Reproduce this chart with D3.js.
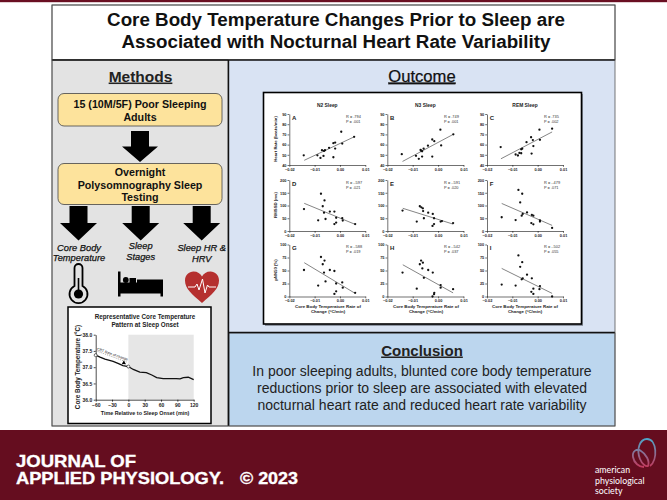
<!DOCTYPE html>
<html>
<head>
<meta charset="utf-8">
<script src="https://cdn.jsdelivr.net/npm/d3@7"></script>
<style>
  html, body { margin: 0; padding: 0; background: #fff; }
  svg { display: block; font-family: "Liberation Sans", Arial, sans-serif; }
</style>
</head>
<body>
<svg width="667" height="500"></svg>
<script>
// scatter data. x = CBT rate of change (C/min)
const xA = [-.0143,-.0089,-.0077,-.0065,-.0071,-.0063,-.0059,-.0043,-.0026,-.0026,-.0019,-.0019,.0005,.0009,.0056]
const yA = [49.5,49.5,46.9,48.9,54.5,53.8,54.5,56.8,47.6,61.4,62,56.1,72.6,61,67.6]
const xB = [-.0143,-.0087,-.0076,-.0063,-.0069,-.0063,-.0067,-.0057,-.004,-.0023,-.0023,-.0015,.0009,.0012,.006]
const yB = [50.6,49,46.1,48.3,54.7,53.5,54,56,58.9,48.3,65,63.4,74.6,59.2,70.1]
const xC = [-.0146,-.0087,-.0078,-.0072,-.0065,-.0065,-.0061,-.0044,-.0024,-.0026,-.0019,-.0017,.0007,.0009,.0057]
const yC = [57.6,50.3,49.3,51.8,51.5,55.4,56,62.4,51.2,67.2,64.4,58.6,74.6,64.7,75.6]
const xD = [-.0142,-.0086,-.0075,-.0068,-.0061,-.0063,-.0057,-.004,-.0022,-.0022,-.0015,-.0015,.0009,.0011,.006]
const yD = [86,42,146,97,120,72,47,76,76,27,33,52,50,41,27]
const xE = [-.014,-.0084,-.0072,-.0066,-.006,-.0059,-.0056,-.0039,-.0021,-.0022,-.0016,-.0016,.001,.0015,.0059]
const yE = [80,37,97,93,89,78,50,72,67,20,27,50,37,39,31]
const xF = [-.0142,-.0087,-.0076,-.0061,-.0069,-.0063,-.0059,-.0042,-.0023,-.0017,-.0025,-.0017,.0009,.0009,.0057]
const yF = [54,43,161,146,112,60,67,73,63,60,31,26,37,42,12]
const xG = [-.0142,-.0086,-.0075,-.0068,-.0061,-.0063,-.0057,-.004,-.0022,-.0022,-.0015,-.0015,.0009,.0011,.006]
const yG = [51,21,76,62,69,46,29,51,49,5,10,25,27,17,7]
const xH = [-.014,-.0084,-.0072,-.0067,-.006,-.0062,-.0056,-.0039,-.0021,-.0022,-.0016,-.0015,.001,.001,.0059]
const yH = [46,15,62,69,65,54,36,51,46,0,4.5,7,22,17,14]
const xI = [-.0142,-.0087,-.0076,-.0061,-.0069,-.0063,-.0059,-.0042,-.0023,-.0017,-.0025,-.0017,.0009,.0007,.0057]
const yI = [23,21,79,66,57,33,35,42,35,15,9,5,20,14,0]

// fit lines: [x1, x2], [y1, y2]
const fitX = [[-.0141,.0056],[-.014,.006],[-.0145,.0057],[-.0141,.006],[-.0139,.0059],[-.0142,.0057],[-.0141,.006],[-.0139,.0059],[-.0142,.0057]]
const fitY = [[44.6,67.6],[43.5,70.1],[46.1,72.4],[108.5,26],[89,27],[108,22],[65,6],[61,7],[54,6]]

const panelLetters = ["A","B","C","D","E","F","G","H","I"]
const rText = ["R = .794","R = .749","R = .735","R = -.597","R = -.591","R = -.479","R = -.588","R = -.542","R = -.502"]
const pText = ["P = .001","P = .001","P = .002","P = .021","P = .020","P = .071","P = .019","P = .037","P = .055"]
const sleepStages = ["N2  Sleep","N3  Sleep","REM  Sleep"]
const rowLabels = ["Heart Rate (beats/min)","RMSSD (ms)","pNN50 (%)"]
const rowDomains = [[40,90],[0,200],[0,100]]
const rowTicks = [[40,50,60,70,80,90],[0,50,100,150,200],[0,25,50,75,100]]
const xTicks = [-0.02,-0.01,0,0.01]

// representative temperature trace
const traceT = [-60,-52,-43,-28,-18,-10,0,9,21,33,43,52,64,76,88,95,101,110,120]
const traceC = [37.37,37.31,37.25,37.18,37.11,37.05,37.02,36.93,36.85,36.83,36.76,36.68,36.65,36.65,36.65,36.64,36.68,36.69,36.62]
const traceXTicks = [-60,-30,0,30,60,90,120]
const traceYTicks = [36,36.5,37,37.5,38]

const svg = d3.select("svg")

function rect(x, y, w, h, fill, stroke, sw, r) {
    return svg.append("rect").attr("x", x).attr("y", y).attr("width", w).attr("height", h)
        .attr("rx", r || 0).attr("fill", fill).attr("stroke", stroke || "none").attr("stroke-width", sw || 0)
}
function label(g, x, y, str, size, weight, fill) {
    return g.append("text").attr("x", x).attr("y", y).attr("text-anchor", "middle")
        .style("font-size", size + "px").style("font-weight", weight || "normal")
        .attr("fill", fill || "#000").text(str)
}

// backgrounds
rect(0, 0, 667, 2.2, "#6a0f22")
rect(52, 5, 563, 55, "#fff", "#444", 0.8)
rect(52, 60, 176, 366, "#e3e3e3", "#555", 0.8)
rect(229, 60, 386, 272, "#d9e3f3")
rect(229, 333, 386, 93, "#bcd6ee", "#555", 0.8)
svg.append("path").attr("d", "M52 60H615M228.5 60V426M229 332.5H615").attr("stroke", "#111").attr("stroke-width", 1.4).attr("fill", "none")
rect(52, 5, 563, 421, "none", "#555", 0.8)

// title
label(svg, 336, 25.5, "Core Body Temperature Changes Prior to Sleep are", 18.8, "bold", "#111")
label(svg, 336, 47.5, "Associated with Nocturnal Heart Rate Variability", 18.8, "bold", "#111")

// methods column
label(svg, 140.5, 81.5, "Methods", 15.5, "bold", "#222").style("text-decoration", "underline")
rect(58, 93.5, 164, 32.5, "#fde39c", "#444", 0.8, 6)
rect(58, 163.5, 164, 41, "#fde39c", "#444", 0.8, 6)
label(svg, 140, 107.5, "15 (10M/5F) Poor Sleeping", 10.7, "bold", "#111")
label(svg, 140, 120.5, "Adults", 10.7, "bold", "#111")
label(svg, 140, 175.5, "Overnight", 10.7, "bold", "#111")
label(svg, 140, 188.5, "Polysomnography Sleep", 10.7, "bold", "#111")
label(svg, 140, 201, "Testing", 10.7, "bold", "#111")

function arrow(cx, top, shaftH, totalH, halfShaft, halfHead) {
    const p = [[-halfShaft,0],[halfShaft,0],[halfShaft,shaftH],[halfHead,shaftH],[0,totalH],[-halfHead,shaftH],[-halfShaft,shaftH]]
    svg.append("polygon").attr("points", p.map(d => [cx + d[0], top + d[1]].join(",")).join(" ")).attr("fill", "#000")
}
arrow(140, 131, 15.5, 31, 9, 18)
arrow(78.5, 206, 17, 34.5, 9, 18.5)
arrow(140.7, 206, 17, 34.5, 9, 18.5)
arrow(201.7, 206, 17, 34.5, 9, 18.5)

const it = [[79,250.5,"Core Body"],[79,260.5,"Temperature"],[140.7,249,"Sleep"],[140.7,259.5,"Stages"],[201.7,251,"Sleep HR &"],[201.7,261.5,"HRV"]]
it.forEach(d => label(svg, d[0], d[1], d[2], 9.3, "normal", "#111").style("font-style", "italic").attr("stroke", "#111").attr("stroke-width", 0.25))

// thermometer
svg.append("path").attr("d", "M74.5 286V268a4 4 0 0 1 8 0V286a9 9 0 1 1 -8 0Z").attr("fill", "#e3e3e3").attr("stroke", "#000").attr("stroke-width", 1.8)
svg.append("circle").attr("cx", 78.5).attr("cy", 294).attr("r", 4.6).attr("fill", "#000")
svg.append("rect").attr("x", 77.7).attr("y", 278).attr("width", 1.6).attr("height", 14).attr("fill", "#000")
// bed
svg.append("path").attr("d", "M118 271.5h2.5v11h16.5v-3l26 0v17h-2.5v-3h-40v3h-2.5Z M120.5 285h16.5v4.5h-16.5Z").attr("fill", "#000").attr("fill-rule", "nonzero")
svg.append("circle").attr("cx", 125.8).attr("cy", 280).attr("r", 2.9).attr("fill", "#000")
svg.append("path").attr("d", "M129.5 278l6.5 0v5h-6.5Z").attr("fill", "#000")
// heart
svg.append("path").attr("d", "M202 303C192 294 185 289 185 280.5C185 275 189 271.5 193.5 271.5C197.5 271.5 200.5 273.5 202 276.5C203.5 273.5 206.5 271.5 210.5 271.5C215 271.5 219 275 219 280.5C219 289 212 294 202 303Z").attr("fill", "#b5302f")
svg.append("path").attr("d", "M188 287H195L197 284L199 290L202.5 279L205 293L207.5 285L209 287H216").attr("fill", "none").attr("stroke", "#fff").attr("stroke-width", 1)

// temperature trace chart
rect(68, 307, 143, 116.5, "#fff", "#000", 1.5)
label(svg, 145, 318.5, "Representative Core Temperature", 6.3, "bold", "#222")
label(svg, 145, 326.5, "Pattern at Sleep Onset", 6.3, "bold", "#222")

const tx = d3.scaleLinear().domain([-60,120]).range([95.7,193.7])
const ty = d3.scaleLinear().domain([36,38]).range([399.7,334.7])
rect(tx(0), ty(38), tx(120) - tx(0), ty(36) - ty(38), "#e6e6e6")
const traceAxisX = svg.append("g").attr("transform", `translate(0,${ty(36)})`)
    .call(d3.axisBottom(tx).tickValues(traceXTicks).tickSize(2).tickPadding(1.5).tickSizeOuter(0))
const traceAxisY = svg.append("g").attr("transform", `translate(${tx(-60)},0)`)
    .call(d3.axisLeft(ty).tickValues(traceYTicks).tickFormat(d3.format(".1f")).tickSize(2).tickPadding(1.5).tickSizeOuter(0))
;[traceAxisX, traceAxisY].forEach(g => {
    g.selectAll("text").style("font-size", "5px").style("font-weight", "bold").style("font-family", "inherit").attr("fill", "#222")
    g.selectAll("path,line").attr("stroke", "#000").attr("stroke-width", 0.7)
})
svg.append("path").datum(d3.range(traceT.length))
    .attr("d", d3.line().x(i => tx(traceT[i])).y(i => ty(traceC[i])))
    .attr("fill", "none").attr("stroke", "#111").attr("stroke-width", 1.3)
svg.selectAll(".end").data([0, 6]).join("circle")
    .attr("cx", i => tx(traceT[i])).attr("cy", i => ty(traceC[i])).attr("r", 1.5)
    .attr("fill", "#fff").attr("stroke", "#111").attr("stroke-width", 0.6)
// slope note above the falling part of the trace
const slopeGap = 0.14
svg.append("line").attr("x1", tx(-60)).attr("y1", ty(37.37 + slopeGap)).attr("x2", tx(-3)).attr("y2", ty(37.02 + slopeGap))
    .attr("stroke", "#555").attr("stroke-width", 0.5).attr("stroke-dasharray", "1,1")
const slopeAngle = Math.atan2(ty(37.02) - ty(37.37), tx(0) - tx(-60)) * 180 / Math.PI
svg.append("text").attr("transform", `translate(${tx(-58)},${ty(37.53)}) rotate(${slopeAngle})`)
    .style("font-size", "3.6px").attr("fill", "#222").text("CBT Rate of change")
svg.append("polygon").attr("points", [[tx(-8)-2.2,ty(37.1)],[tx(-8)+2,ty(37.1)+0.4],[tx(-8)-0.2,ty(37.1)-3.5]].map(d => d.join(",")).join(" ")).attr("fill", "#000")
label(svg, 145, 415, "Time Relative to Sleep Onset (min)", 5.4, "bold", "#222")
svg.append("text").attr("transform", "translate(79.5,367) rotate(-90)").attr("text-anchor", "middle")
    .style("font-size", "6.3px").style("font-weight", "bold").attr("fill", "#222").text("Core Body Temperature (\u00b0C)")

// outcome panel
label(svg, 422, 81.5, "Outcome", 16.6, "normal", "#111").attr("stroke", "#111").attr("stroke-width", 0.25).style("text-decoration", "underline")
rect(265, 94, 318, 232, "#8f97a3")
rect(263.5, 92.5, 318, 231.5, "#fff", "#000", 1.6)

const colRanges = [[289.3,365.3],[387.3,463.5],[487,563]]
const rowRanges = [[165,114],[231,180],[296.5,244.5]]
const xSeries = [xA,xB,xC,xD,xE,xF,xG,xH,xI]
const ySeries = [yA,yB,yC,yD,yE,yF,yG,yH,yI]

sleepStages.forEach((s, c) => label(svg, (colRanges[c][0] + colRanges[c][1]) / 2, 107, s, 4.9, "bold", "#222"))

panelLetters.forEach((letter, i) => {
    const col = i % 3, row = Math.floor(i / 3)
    const x = d3.scaleLinear().domain([-0.02,0.01]).range(colRanges[col])
    const y = d3.scaleLinear().domain(rowDomains[row]).range(rowRanges[row])
    const g = svg.append("g")
    const ax = g.append("g").attr("transform", `translate(0,${rowRanges[row][0]})`)
        .call(d3.axisBottom(x).tickValues(xTicks).tickFormat(d3.format(".2f")).tickSize(1.8).tickPadding(1).tickSizeOuter(0))
    const ay = g.append("g").attr("transform", `translate(${colRanges[col][0]},0)`)
        .call(d3.axisLeft(y).tickValues(rowTicks[row]).tickSize(1.8).tickPadding(1).tickSizeOuter(0))
    ;[ax, ay].forEach(a => {
        a.selectAll("text").style("font-size", "3.9px").style("font-weight", "bold").style("font-family", "inherit").attr("fill", "#222")
        a.selectAll("path,line").attr("stroke", "#111").attr("stroke-width", 0.6)
    })
    g.append("line").attr("x1", x(fitX[i][0])).attr("x2", x(fitX[i][1])).attr("y1", y(fitY[i][0])).attr("y2", y(fitY[i][1]))
        .attr("stroke", "#333").attr("stroke-width", 0.6)
    g.selectAll("circle").data(xSeries[i]).join("circle")
        .attr("cx", d => x(d)).attr("cy", (d, j) => y(ySeries[i][j])).attr("r", 1.15).attr("fill", "#111")
    g.append("text").attr("x", colRanges[col][0] + 2.8).attr("y", rowRanges[row][1] + 5.8)
        .style("font-size", "6px").style("font-weight", "bold").attr("fill", "#222").text(letter)
    const tx0 = [346, 444, 544][col]
    const ty0 = rowRanges[row][1] + 3.7
    g.append("text").attr("x", tx0).attr("y", ty0).style("font-size", "3.9px").attr("fill", "#333").text(rText[i])
    g.append("text").attr("x", tx0).attr("y", ty0 + 4.8).style("font-size", "3.9px").attr("fill", "#333").text(pText[i])
})

rowLabels.forEach((s, r) => {
    svg.append("text").attr("transform", `translate(277,${(rowRanges[r][0] + rowRanges[r][1]) / 2 - 0.5}) rotate(-90)`)
        .attr("text-anchor", "middle").style("font-size", "4.3px").style("font-weight", "bold").attr("fill", "#222").text(s)
})
colRanges.forEach((c, k) => {
    const cx = [328, 426, 525][k]
    label(svg, cx, 308, "Core Body Temperature Rate of", 4.4, "bold", "#222")
    label(svg, cx, 313, "Change (\u00b0C/min)", 4.4, "bold", "#222")
})

// conclusion
label(svg, 422, 355.5, "Conclusion", 15, "bold", "#222").style("text-decoration", "underline")
label(svg, 422, 375.5, "In poor sleeping adults, blunted core body temperature", 14, "normal", "#222")
label(svg, 422, 392.5, "reductions prior to sleep are associated with elevated", 14, "normal", "#222")
label(svg, 422, 409.5, "nocturnal heart rate and reduced heart rate variability", 14, "normal", "#222")

// footer band
rect(0, 430, 667, 70, "#650d1f")
function footerText(x, y, str, w, size) {
    svg.append("text").attr("x", x).attr("y", y).attr("textLength", w).attr("lengthAdjust", "spacingAndGlyphs")
        .style("font-size", size + "px").style("font-weight", "bold").attr("fill", "#fff")
        .attr("stroke", "#fff").attr("stroke-width", 0.35).text(str)
}
footerText(16, 466.5, "JOURNAL OF", 120, 16.5)
footerText(16, 483.5, "APPLIED PHYSIOLOGY.", 208, 16.5)
footerText(240, 483.5, "\u00a9 2023", 58, 16.5)

// society logo
const grad = svg.append("defs").append("linearGradient").attr("id", "logo").attr("x1", 0).attr("y1", 0).attr("x2", 0).attr("y2", 1)
grad.append("stop").attr("offset", "0%").attr("stop-color", "#4fa6c9")
grad.append("stop").attr("offset", "100%").attr("stop-color", "#c23a5e")
svg.append("path").attr("d", "M650 466C658 460 657 439 647 439C640 439 636 449 640 459C642 464 646 467 648 466C650 461 646 454 641 451C637 448 632 451 633 457C634 463 639 467 644 467")
    .attr("fill", "none").attr("stroke", "url(#logo)").attr("stroke-width", 1.8)
;["american","physiological","society"].forEach((s, i) => {
    svg.append("text").attr("x", 595).attr("y", 473 + i * 10.5).style("font-size", "8.8px").style("font-family", "Lato").attr("fill", "#fff").text(s)
})
</script>
</body>
</html>
